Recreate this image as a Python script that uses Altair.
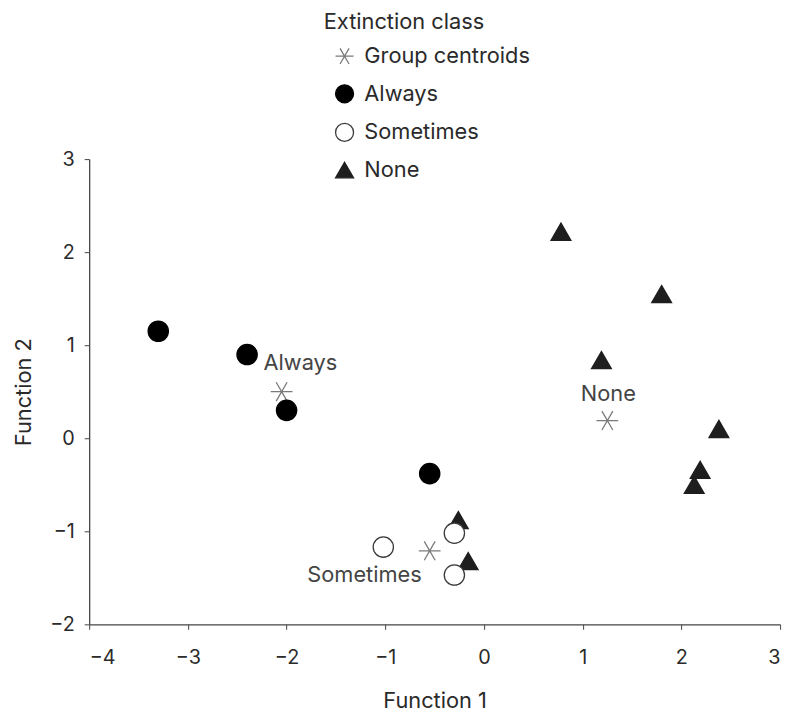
import altair as alt
import pandas as pd

classes = ["Group centroids", "Always", "Sometimes", "None"]

always_x = [-3.3, -2.4, -2.0, -0.55]
always_y = [1.15, 0.9, 0.3, -0.38]
sometimes_x = [-1.02, -0.3, -0.3]
sometimes_y = [-1.17, -1.02, -1.47]
none_x = [0.78, 1.8, 1.19, 2.38, 2.19, 2.13, -0.26, -0.16]
none_y = [2.22, 1.55, 0.84, 0.1, -0.34, -0.5, -0.88, -1.32]
centroid_x = [-2.05, -0.55, 1.25]
centroid_y = [0.5, -1.21, 0.19]

label_text = ["Always", "Sometimes", "None"]
label_x = [-1.86, -1.21, 1.26]
label_y = [0.81, -1.47, 0.47]

x_ticks = [-4, -3, -2, -1, 0, 1, 2, 3]
y_ticks = [-2, -1, 0, 1, 2, 3]


def frame(xs, ys, cls):
    return pd.DataFrame({"f1": xs, "f2": ys, "cls": [cls] * len(xs)})


labels = pd.DataFrame({"f1": label_x, "f2": label_y, "text": label_text})

FONT = "Inter"
TXT = "#2a2a2a"
asterisk = "M-1,0L1,0M-0.5,-0.866L0.5,0.866M-0.5,0.866L0.5,-0.866"

xscale = alt.Scale(domain=[-4, 3], nice=False, zero=False)
yscale = alt.Scale(domain=[-2, 3], nice=False, zero=False)

xaxis = alt.Axis(title="Function 1", values=x_ticks, format="d", grid=False,
                 labelFontSize=20, titleFontSize=22, titleFontWeight="normal",
                 labelPadding=19, titlePadding=23, tickSize=5, labelFont=FONT,
                 titleFont=FONT, labelColor=TXT, titleColor=TXT,
                 domainColor="#444", tickColor="#444", domainWidth=1.3)
yaxis = alt.Axis(title="Function 2", values=y_ticks, format="d", grid=False,
                 labelFontSize=20, titleFontSize=22, titleFontWeight="normal",
                 labelPadding=10, titlePadding=15, tickSize=5, labelFont=FONT,
                 titleFont=FONT, labelColor=TXT, titleColor=TXT,
                 domainColor="#444", tickColor="#444", domainWidth=1.3)

legend = alt.Legend(
    title="Extinction class", orient="none", legendX=237, legendY=-148, padding=0,
    titleFontSize=22, titleFontWeight="normal", titleFont=FONT, titleColor=TXT,
    labelFontSize=22, labelFont=FONT, labelColor=TXT, labelLimit=400,
    symbolSize=330, symbolStrokeWidth=1.3, rowPadding=15, titlePadding=11,
    symbolOffset=10, labelOffset=9,
)

shape_scale = alt.Scale(domain=classes, range=[asterisk, "circle", "circle", "triangle-up"])
fill_scale = alt.Scale(domain=classes, range=["transparent", "#000000", "#ffffff", "#1e1e1e"])
stroke_scale = alt.Scale(domain=classes, range=["#7a7a7a", "#000000", "#3a3a3a", "#1e1e1e"])


def layer(df, size):
    return alt.Chart(df).mark_point(opacity=1, strokeWidth=1.3, size=size).encode(
        x=alt.X("f1:Q", scale=xscale, axis=xaxis),
        y=alt.Y("f2:Q", scale=yscale, axis=yaxis),
        shape=alt.Shape("cls:N", scale=shape_scale, legend=legend),
        fill=alt.Fill("cls:N", scale=fill_scale, legend=legend),
        stroke=alt.Stroke("cls:N", scale=stroke_scale, legend=legend),
    )


centroids = layer(frame(centroid_x, centroid_y, "Group centroids"), 484)
nones = layer(frame(none_x, none_y, "None"), 400)
alwayss = layer(frame(always_x, always_y, "Always"), 420)
sometimess = layer(frame(sometimes_x, sometimes_y, "Sometimes"), 420)

text = alt.Chart(labels).mark_text(fontSize=22, font=FONT, color="#444").encode(
    x=alt.X("f1:Q", scale=xscale),
    y=alt.Y("f2:Q", scale=yscale),
    text="text:N",
)

chart = alt.layer(centroids, nones, alwayss, sometimess, text).properties(
    width=698, height=470,
    autosize=alt.AutoSizeParams(type="none"),
    padding={"left": 82, "top": 149, "right": 9, "bottom": 95},
).configure_view(stroke=None)

chart.save("out.html", embed_options={"renderer": "svg", "actions": False})
